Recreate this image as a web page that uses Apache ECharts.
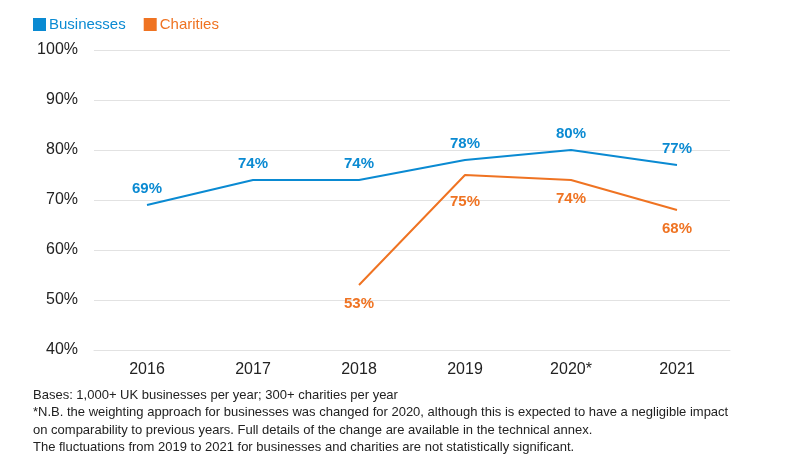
<!DOCTYPE html>
<html><head><meta charset="utf-8">
<script src="https://cdn.jsdelivr.net/npm/echarts@6/dist/echarts.min.js"></script>
<style>html,body{margin:0;padding:0;background:#fff}#c{width:788px;height:462px}</style>
</head><body><div id="c"></div>
<script>
const categories = ['2016','2017','2018','2019','2020*','2021'];
const businesses = [69, 74, 74, 78, 80, 77];
const charities = [null, null, 53, 75, 74, 68];
const yTicks = [40, 50, 60, 70, 80, 90, 100];
const notes = [
  'Bases: 1,000+ UK businesses per year; 300+ charities per year',
  '*N.B. the weighting approach for businesses was changed for 2020, although this is expected to have a negligible impact',
  'on comparability to previous years. Full details of the change are available in the technical annex.',
  'The fluctuations from 2019 to 2021 for businesses and charities are not statistically significant.'
];
const BLUE = '#0a8ad2', ORANGE = '#ef7322';
const font = '"Liberation Sans", Arial, sans-serif';
const chart = echarts.init(document.getElementById('c'));
chart.setOption({
  animation: false,
  textStyle: { fontFamily: font },
  legend: {
    left: 28, top: 12, itemWidth: 13, itemHeight: 13, itemGap: 18, icon: 'rect',
    data: [
      { name: 'Businesses', textStyle: { color: BLUE } },
      { name: 'Charities', textStyle: { color: ORANGE } }
    ],
    textStyle: { fontSize: 15, fontFamily: font, padding: [0, 0, 0, -2] }
  },
  grid: { left: 94, right: 58, top: 50, bottom: 112 },
  xAxis: {
    type: 'category', data: categories, boundaryGap: true,
    axisLine: { lineStyle: { color: '#e2e2e2', width: 1 } },
    axisTick: { alignWithLabel: true, length: 6, lineStyle: { color: '#e2e2e2' } },
    axisLabel: { fontSize: 16, color: '#222', margin: 12, fontFamily: font }
  },
  yAxis: {
    type: 'value', min: yTicks[0], max: yTicks[yTicks.length - 1], interval: 10,
    axisLine: { show: false }, axisTick: { show: false },
    splitLine: { lineStyle: { color: '#e2e2e2', width: 1 } },
    axisLabel: { fontSize: 16, color: '#222', margin: 16, formatter: v => v + '%', fontFamily: font }
  },
  series: [
    {
      name: 'Businesses', type: 'line', data: businesses, color: BLUE,
      showSymbol: true, symbol: 'circle', symbolSize: 0.1, lineStyle: { width: 2, color: BLUE },
      label: { show: true, position: 'top', distance: 9, formatter: p => p.value + '%',
        color: BLUE, fontSize: 15, fontWeight: 'bold', fontFamily: font }
    },
    {
      name: 'Charities', type: 'line',
      data: charities.map((v, i) => i === 3 ? { value: v, label: { distance: 19 } } : v),
      color: ORANGE,
      showSymbol: true, symbol: 'circle', symbolSize: 0.1, lineStyle: { width: 2, color: ORANGE },
      label: { show: true, position: 'bottom', distance: 11, formatter: p => p.value + '%',
        color: ORANGE, fontSize: 15, fontWeight: 'bold', fontFamily: font }
    }
  ],
  graphic: notes.map((t, i) => ({
    type: 'text', left: 33, top: 389 + i * 17.4,
    style: { text: t, fontSize: 13, fill: '#222', fontFamily: font }
  }))
});
</script></body></html>
